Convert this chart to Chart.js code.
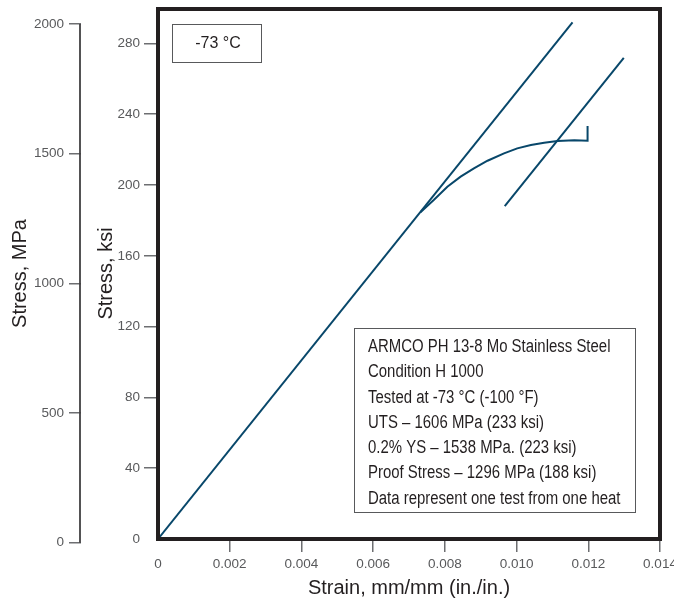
<!DOCTYPE html>
<html>
<head>
<meta charset="utf-8">
<title>ARMCO PH 13-8 Mo stress-strain, -73 °C</title>
<script src="https://cdn.jsdelivr.net/npm/chart.js@4/dist/chart.umd.min.js"></script>
<style>
  html, body { margin: 0; padding: 0; background: #fff; }
  #chart { display: block; }
</style>
</head>
<body>
<canvas id="chart" width="674" height="605"></canvas>
<script>
// Axis ticks
var strainTicks = [0, 0.002, 0.004, 0.006, 0.008, 0.010, 0.012, 0.014];
var strainLabels = ['0', '0.002', '0.004', '0.006', '0.008', '0.010', '0.012', '0.014'];
var ksiTicks = [0, 40, 80, 120, 160, 200, 240, 280];
var mpaTicks = [0, 500, 1000, 1500, 2000];

// Elastic line (modulus line through origin)
var elasticStrain = [0, 0.01156];
var elasticKsi = [0, 291.9];

// Measured curve past proportional limit, ends at fracture
var curveStrain = [0.00732, 0.00769, 0.00807, 0.00844, 0.00881, 0.00919, 0.00965, 0.01002, 0.01040, 0.01077, 0.01114, 0.01161, 0.01198, 0.01198];
var curveKsi = [184.6, 191.5, 199.0, 204.7, 209.4, 213.7, 217.9, 220.7, 222.6, 223.9, 224.9, 225.3, 225.0, 233.3];

// 0.2% offset line
var offsetStrain = [0.00967, 0.01299];
var offsetKsi = [188.1, 271.8];

var tempLabel = '-73 °C';
var infoLines = [
  'ARMCO PH 13-8 Mo Stainless Steel',
  'Condition H 1000',
  'Tested at -73 °C (-100 °F)',
  'UTS – 1606 MPa (233 ksi)',
  '0.2% YS – 1538 MPa. (223 ksi)',
  'Proof Stress – 1296 MPa (188 ksi)',
  'Data represent one test from one heat'
];

var LINE = '#08476a';
var INK = '#231f20';
var TICK_TXT = '#58595b';
var tickFont = { family: "'Liberation Sans', Arial, sans-serif", size: 13.5 };
var titleFont = { family: "'Liberation Sans', Arial, sans-serif", size: 20 };

function pts(xs, ys) {
  return xs.map(function(x, i) { return { x: x, y: ys[i] }; });
}
function lineSet(xs, ys) {
  return {
    data: pts(xs, ys), showLine: true, fill: false, tension: 0,
    borderColor: LINE, borderWidth: 2, pointRadius: 0, xAxisID: 'x', yAxisID: 'ksi'
  };
}
function fixTicks(list) {
  return function(scale) { scale.ticks = list.map(function(v) { return { value: v }; }); };
}
function noPad(scale) {
  scale.paddingTop = 0; scale.paddingBottom = 0; scale.paddingLeft = 0; scale.paddingRight = 0;
}
function hideZero(c) { return c.tick && c.tick.value === 0 ? 'rgba(0,0,0,0)' : '#6d6e71'; }
function plain(v) { return String(v); }

var decor = {
  id: 'decor',
  afterDraw: function(chart) {
    var ctx = chart.ctx, a = chart.chartArea, mpa = chart.scales.mpa;
    ctx.save();
    // MPa axis spine, from 0 to 2000
    ctx.strokeStyle = '#414042';
    ctx.lineWidth = 1.8;
    ctx.beginPath();
    ctx.moveTo(mpa.right - 1, mpa.getPixelForValue(mpaTicks[0]));
    ctx.lineTo(mpa.right - 1, mpa.getPixelForValue(mpaTicks[mpaTicks.length - 1]));
    ctx.stroke();

    // plot frame
    ctx.strokeStyle = INK;
    ctx.lineWidth = 4;
    ctx.strokeRect(a.left, a.top + 1, a.right - a.left, a.bottom - a.top - 1);

    // temperature box
    ctx.lineWidth = 1;
    ctx.strokeStyle = '#58595b';
    ctx.strokeRect(172.5, 24.5, 89, 38);
    ctx.fillStyle = INK;
    ctx.font = "16px 'Liberation Sans', Arial, sans-serif";
    ctx.textAlign = 'center';
    ctx.textBaseline = 'middle';
    ctx.fillText(tempLabel, 218, 44);

    // info box (condensed type)
    ctx.strokeRect(354.5, 328.5, 281, 184);
    ctx.font = "18px 'Liberation Sans', Arial, sans-serif";
    ctx.textAlign = 'left';
    infoLines.forEach(function(t, i) {
      ctx.save();
      ctx.translate(368, 347 + i * 25.3);
      ctx.scale(0.83, 1);
      ctx.fillText(t, 0, 0);
      ctx.restore();
    });
    ctx.restore();
  }
};

new Chart(document.getElementById('chart'), {
  type: 'scatter',
  data: {
    datasets: [
      lineSet(elasticStrain, elasticKsi),
      lineSet(curveStrain, curveKsi),
      lineSet(offsetStrain, offsetKsi)
    ]
  },
  options: {
    responsive: false,
    animation: false,
    layout: { padding: { top: 8, right: 14, bottom: 0, left: 0 } },
    plugins: { legend: { display: false }, tooltip: { enabled: false } },
    scales: {
      x: {
        type: 'linear', position: 'bottom', min: 0, max: 0.014,
        afterBuildTicks: fixTicks(strainTicks),
        afterFit: function(s) { s.height = 66; noPad(s); },
        border: { display: false },
        grid: { drawOnChartArea: false, drawTicks: true, tickLength: 13, color: hideZero, lineWidth: 1.5 },
        ticks: {
          font: tickFont, color: TICK_TXT, padding: 4, maxRotation: 0, autoSkip: false,
          callback: function(v, i) { return strainLabels[i]; }
        },
        title: { display: true, text: 'Strain, mm/mm (in./in.)', font: titleFont, color: INK, padding: { top: 0, bottom: 5 } }
      },
      ksi: {
        type: 'linear', position: 'left', weight: 0, min: 0, max: 300,
        afterBuildTicks: fixTicks(ksiTicks),
        afterFit: function(s) { s.width = 77; noPad(s); },
        border: { display: false },
        grid: { drawOnChartArea: false, drawTicks: true, tickLength: 14, color: hideZero, lineWidth: 1.5 },
        ticks: { font: tickFont, color: TICK_TXT, padding: 4, autoSkip: false, callback: plain },
        title: { display: true, text: 'Stress, ksi', font: titleFont, color: INK, padding: { top: 13, bottom: 0 } }
      },
      mpa: {
        type: 'linear', position: 'left', weight: 1, min: 14, max: 2062,
        afterBuildTicks: fixTicks(mpaTicks),
        afterFit: function(s) { s.width = 81; noPad(s); },
        border: { display: false },
        grid: { drawOnChartArea: false, drawTicks: true, tickLength: 12, color: '#6d6e71', lineWidth: 1.5 },
        ticks: { font: tickFont, color: TICK_TXT, padding: 5, autoSkip: false, callback: plain },
        title: { display: true, text: 'Stress, MPa', font: titleFont, color: INK, padding: { top: 8, bottom: 0 } }
      }
    }
  },
  plugins: [decor]
});
</script>
</body>
</html>
